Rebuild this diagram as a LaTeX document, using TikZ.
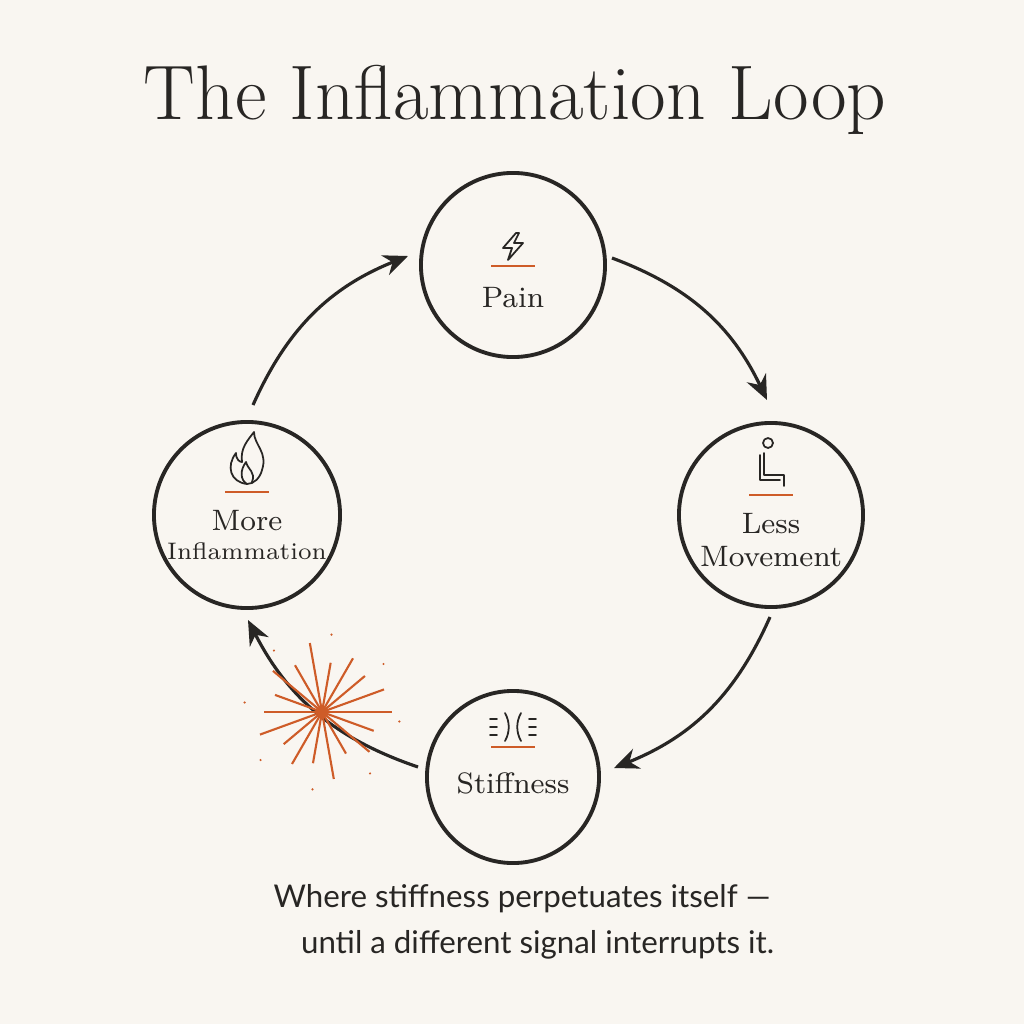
\documentclass[tikz,border=0pt]{standalone}
\usepackage{fontspec}
\newfontfamily\capfont{Lato}
\usetikzlibrary{arrows.meta,positioning}
\definecolor{paper}{RGB}{249,246,241}
\definecolor{ink}{RGB}{40,38,36}
\definecolor{rust}{RGB}{206,92,40}
\tikzset{
  stage/.style={circle,draw=ink,line width=1.1pt,minimum size=#1,inner sep=0pt},
  lbl/.style={text=ink,font=\fontsize{8.4pt}{9.4pt}\selectfont,align=center},
  loop/.style={draw=ink,line width=0.9pt,-{Stealth[length=7pt,width=6pt]}},
  icon/.style={draw=ink,line width=0.5pt,line cap=round,line join=round},
  bar/.style={draw=rust,line width=0.7pt}
}
\begin{document}
\begin{tikzpicture}[x=0.01cm,y=-0.01cm]
\fill[paper] (0,0) rectangle (1024,1024);
\useasboundingbox (0,0) rectangle (1024,1024);

%%% title %%%
\node[text=ink,font=\fontsize{22pt}{25pt}\selectfont] (title) at (515,100) {The Inflammation Loop};

%%% stages %%%
\node[stage=1.84cm] (pain) at (513,265) {};
\node[stage=1.84cm] (less) at (771,515) {};
\node[stage=1.72cm] (stiff) at (513,777) {};
\node[stage=1.86cm] (more) at (247,515) {};

\node[lbl] (tpain) at (513,298) {Pain};
\node[lbl] (tless) at (771,540) {Less\\Movement};
\node[lbl] (tstiff) at (513,783) {Stiffness};
\node[lbl] (tmore) at (247,535) {More\\[-1pt]{\fontsize{6.8pt}{8pt}\selectfont Inflammation}};

\draw[bar] (491,266) -- (535,266);
\draw[bar] (749,495) -- (793,495);
\draw[bar] (491,747) -- (535,747);
\draw[bar] (225,492) -- (269,492);

%%% icons %%%
\draw[icon] (516,233) -- (503,248) -- (512,248) -- (508,260) -- (523,243) -- (514,243) -- (519,233) -- cycle;
\draw[icon] (247,484) .. controls (230,482) and (226,466) .. (236,453)
  .. controls (236,460) and (240,462) .. (242,462) .. controls (240,448) and (248,440) .. (254,432)
  .. controls (254,445) and (268,452) .. (262,470) .. controls (260,478) and (254,484) .. (247,484);
\draw[icon] (247,484) .. controls (240,480) and (240,470) .. (246,462) .. controls (248,470) and (256,472) .. (252,482);
\draw[icon] (768,443) circle (5);
\draw[icon] (764,453) -- (764,475) -- (784,475) -- (784,486) (760,455) -- (760,480) -- (780,480);
\draw[icon] (505,713) .. controls (510,722) and (510,732) .. (505,741);
\draw[icon] (521,713) .. controls (516,722) and (516,732) .. (521,741);
\foreach \y in {719,727,735}{
  \draw[icon] (490,\y) -- (497,\y);
  \draw[icon] (529,\y) -- (536,\y);
}

%%% connectors %%%
\draw[loop] (253,405) to[bend left=22] (408,256);
\draw[loop] (612,258) to[bend left=22] (767,400);
\draw[loop] (770,617) to[bend left=22] (614,768);
\draw[loop] (418,767) to[bend left=22] (248,620);

%%% burst %%%
\coordinate (burst) at (322,712);
\foreach \a/\r in {0/70,20/55,40/62,60/48,80/68,100/52,120/60,140/50,160/66,180/58,200/50,220/64,240/54,260/70,280/50,300/62,320/56,340/66}{
  \draw[rust,line width=0.6pt] (burst) -- ++(\a:\r);
}
\foreach \a in {7,52,97,142,187,232,277,322}{
  \fill[rust] (burst) ++(\a:78) circle (1.2);
}

%%% caption %%%
\node[text=ink,font=\capfont\fontsize{8.9pt}{13pt}\selectfont,align=center] (cap) at (522,922)
  {Where stiffness perpetuates itself —\\\quad until a different signal interrupts it.};
\end{tikzpicture}
\end{document}
